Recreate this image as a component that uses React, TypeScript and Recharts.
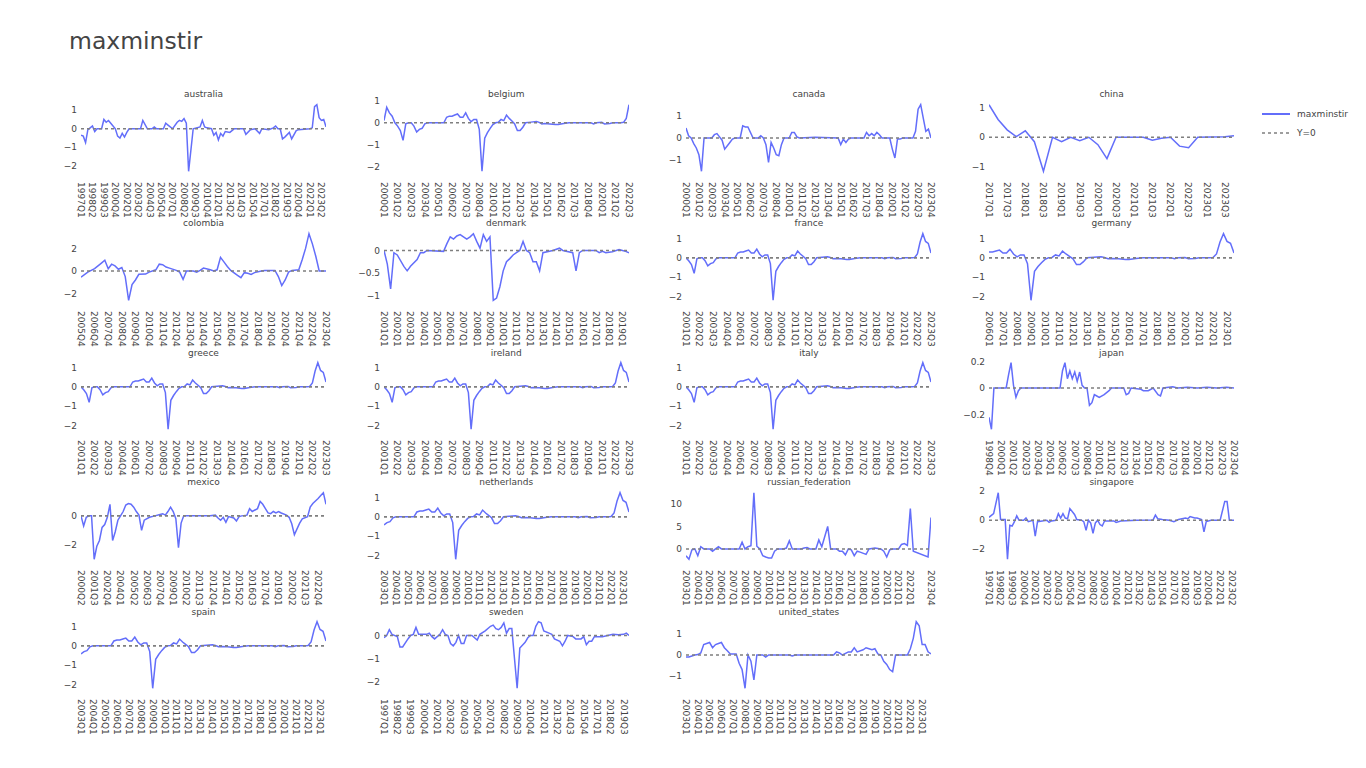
import { LineChart, Line, XAxis, YAxis, ReferenceLine } from "recharts";

type Pt = [string, number];

// euro area short rates (same series shows in every euro panel)
const euroArea: Pt[] = [
  ["2000Q1", 0.1], ["2000Q2", 0.7], ["2000Q3", 0.45], ["2000Q4", 0.3],
  ["2001Q1", 0], ["2001Q2", -0.15], ["2001Q3", -0.35], ["2001Q4", -0.8],
  ["2002Q1", -0.05], ["2002Q2", 0], ["2002Q3", 0], ["2002Q4", -0.15],
  ["2003Q1", -0.42], ["2003Q2", -0.3], ["2003Q3", -0.25], ["2003Q4", -0.05],
  ["2004Q1", 0], ["2005Q3", 0], ["2005Q4", 0.25], ["2006Q1", 0.3], ["2006Q2", 0.3],
  ["2006Q3", 0.35], ["2006Q4", 0.4], ["2007Q1", 0.25], ["2007Q2", 0.25], ["2007Q3", 0.45],
  ["2007Q4", 0.2], ["2008Q1", 0.05], ["2008Q2", 0.15], ["2008Q3", 0.15], ["2008Q4", -0.3],
  ["2009Q1", -2.2], ["2009Q2", -0.7], ["2009Q3", -0.45], ["2009Q4", -0.25], ["2010Q1", -0.08],
  ["2010Q2", 0], ["2010Q3", 0.02], ["2010Q4", 0.15], ["2011Q1", 0.1], ["2011Q2", 0.35],
  ["2011Q3", 0.2], ["2011Q4", 0.08], ["2012Q1", -0.05], ["2012Q2", -0.35], ["2012Q3", -0.35],
  ["2012Q4", -0.2], ["2013Q1", 0], ["2013Q3", 0.03], ["2014Q1", 0.06], ["2014Q2", 0.02],
  ["2014Q3", -0.05], ["2014Q4", -0.03], ["2015Q2", -0.05], ["2015Q4", -0.08], ["2016Q1", -0.08],
  ["2016Q3", -0.03], ["2017Q1", 0], ["2019Q1", 0], ["2019Q2", -0.05], ["2019Q3", 0],
  ["2020Q1", 0.02], ["2020Q2", -0.05], ["2020Q4", -0.03], ["2021Q1", 0], ["2021Q4", 0],
  ["2022Q1", 0.02], ["2022Q2", 0.2], ["2022Q3", 0.82], ["2022Q4", 1.25], ["2023Q1", 0.85],
  ["2023Q2", 0.75], ["2023Q3", 0.25],
];

const australia: Pt[] = [
  ["1997Q1", -0.35], ["1997Q2", -0.4], ["1997Q3", -0.75], ["1997Q4", -0.05], ["1998Q1", 0.05],
  ["1998Q2", 0.15], ["1998Q3", -0.15], ["1998Q4", 0], ["1999Q2", 0], ["1999Q3", 0.5],
  ["1999Q4", 0.35], ["2000Q1", 0.45], ["2000Q2", 0.3], ["2000Q4", 0], ["2001Q1", -0.4],
  ["2001Q2", -0.5], ["2001Q3", -0.25], ["2001Q4", -0.45], ["2002Q1", -0.2], ["2002Q2", 0],
  ["2003Q3", 0], ["2003Q4", 0.45], ["2004Q2", 0], ["2004Q4", 0], ["2005Q1", 0.1], ["2005Q2", 0],
  ["2006Q1", 0], ["2006Q2", 0.3], ["2006Q3", 0.2], ["2007Q1", 0], ["2007Q3", 0.35],
  ["2007Q4", 0.45], ["2008Q1", 0.4], ["2008Q2", 0.55], ["2008Q3", 0.3], ["2008Q4", -2.3],
  ["2009Q2", 0], ["2010Q1", 0.1], ["2010Q2", 0.45], ["2010Q3", 0.1], ["2010Q4", 0.05],
  ["2011Q2", 0], ["2011Q3", -0.35], ["2011Q4", -0.2], ["2012Q1", -0.6], ["2012Q2", -0.25],
  ["2012Q3", -0.4], ["2012Q4", -0.15], ["2013Q2", -0.2], ["2013Q4", 0], ["2014Q4", 0],
  ["2015Q1", -0.3], ["2015Q3", -0.05], ["2016Q1", 0], ["2016Q3", -0.25], ["2016Q4", 0],
  ["2017Q3", -0.05], ["2018Q1", 0.05], ["2018Q2", 0.15], ["2018Q3", 0], ["2018Q4", 0],
  ["2019Q1", -0.55], ["2019Q2", -0.45], ["2019Q4", -0.2], ["2020Q1", -0.55], ["2020Q3", -0.1],
  ["2020Q4", -0.05], ["2022Q1", 0], ["2022Q2", 0.05], ["2022Q3", 1.2], ["2022Q4", 1.3],
  ["2023Q1", 0.6], ["2023Q2", 0.45], ["2023Q3", 0.5], ["2023Q4", 0.1],
];

const canada: Pt[] = [
  ["2000Q1", 0.45], ["2000Q2", 0.1], ["2000Q3", 0], ["2000Q4", -0.25], ["2001Q1", -0.45],
  ["2001Q2", -0.75], ["2001Q3", -1.5], ["2001Q4", 0], ["2002Q3", 0], ["2002Q4", 0.15],
  ["2003Q1", 0.2], ["2003Q2", 0.05], ["2003Q3", -0.1], ["2003Q4", -0.5], ["2004Q2", -0.2],
  ["2004Q3", -0.05], ["2004Q4", 0], ["2005Q2", 0], ["2005Q3", 0.55], ["2005Q4", 0.5],
  ["2006Q1", 0.5], ["2006Q3", 0], ["2007Q1", 0], ["2007Q2", 0.1], ["2007Q3", 0],
  ["2007Q4", -0.3], ["2008Q1", -1.1], ["2008Q2", -0.2], ["2008Q3", -0.45], ["2008Q4", -0.75],
  ["2009Q1", -0.8], ["2009Q2", -0.3], ["2009Q3", 0], ["2010Q1", 0], ["2010Q2", 0.25],
  ["2010Q3", 0.25], ["2010Q4", 0.05], ["2011Q1", 0], ["2012Q3", 0.03], ["2014Q4", 0],
  ["2015Q1", -0.3], ["2015Q2", -0.05], ["2015Q3", -0.2], ["2015Q4", -0.05], ["2016Q1", 0],
  ["2017Q2", 0], ["2017Q3", 0.25], ["2017Q4", 0.1], ["2018Q1", 0.2], ["2018Q2", 0.1],
  ["2018Q3", 0.25], ["2018Q4", 0.15], ["2019Q1", 0], ["2019Q4", 0], ["2020Q1", -0.5],
  ["2020Q2", -0.9], ["2020Q3", -0.05], ["2020Q4", -0.05], ["2021Q1", 0], ["2022Q1", 0],
  ["2022Q2", 0.3], ["2022Q3", 1.3], ["2022Q4", 1.5], ["2023Q1", 0.9], ["2023Q2", 0.3],
  ["2023Q3", 0.4], ["2023Q4", 0],
];

const china: Pt[] = [
  ["2017Q1", 1.1], ["2017Q2", 0.6], ["2017Q3", 0.25], ["2017Q4", 0.02], ["2018Q1", 0.22],
  ["2018Q2", -0.15], ["2018Q3", -1.15], ["2018Q4", 0], ["2019Q1", -0.15], ["2019Q2", 0],
  ["2019Q3", -0.12], ["2019Q4", 0], ["2020Q1", -0.25], ["2020Q2", -0.72], ["2020Q3", 0],
  ["2021Q2", 0], ["2021Q3", -0.1], ["2021Q4", -0.03], ["2022Q1", 0], ["2022Q2", -0.3],
  ["2022Q3", -0.35], ["2022Q4", 0], ["2023Q3", 0.02], ["2023Q4", 0.05],
];

const colombia: Pt[] = [
  ["2005Q4", -0.55], ["2006Q2", -0.1], ["2006Q4", 0.2], ["2007Q2", 0.7], ["2007Q3", 0.95],
  ["2007Q4", 0.2], ["2008Q1", 0.6], ["2008Q2", 0.45], ["2008Q3", 0.15], ["2008Q4", 0.3],
  ["2009Q1", -0.5], ["2009Q2", -2.6], ["2009Q3", -1.2], ["2009Q4", -0.8], ["2010Q1", -0.3],
  ["2010Q3", -0.28], ["2010Q4", -0.1], ["2011Q2", 0.1], ["2011Q3", 0.6], ["2011Q4", 0.55],
  ["2012Q1", 0.35], ["2012Q2", 0.25], ["2012Q4", 0.05], ["2013Q1", -0.1], ["2013Q2", -0.75],
  ["2013Q3", 0], ["2014Q1", 0], ["2014Q2", -0.1], ["2014Q3", 0.05], ["2014Q4", 0.25],
  ["2015Q2", 0.1], ["2015Q3", 0], ["2015Q4", 0.1], ["2016Q1", 1.2], ["2016Q2", 0.8],
  ["2016Q3", 0.4], ["2016Q4", 0.05], ["2017Q2", -0.4], ["2017Q3", -0.6], ["2017Q4", -0.15],
  ["2018Q1", -0.2], ["2018Q2", -0.3], ["2018Q3", -0.15], ["2019Q1", 0], ["2019Q2", 0.05],
  ["2020Q1", 0.05], ["2020Q2", -0.5], ["2020Q3", -1.3], ["2020Q4", -0.8], ["2021Q1", -0.1],
  ["2021Q2", 0.05], ["2021Q4", 0.1], ["2022Q1", 1.0], ["2022Q2", 2.0], ["2022Q3", 3.3],
  ["2022Q4", 2.4], ["2023Q1", 1.3], ["2023Q2", 0], ["2023Q4", 0],
];

const denmark: Pt[] = [
  ["2001Q1", 0], ["2001Q2", -0.3], ["2001Q3", -0.85], ["2001Q4", -0.05], ["2002Q1", -0.1],
  ["2002Q3", -0.35], ["2002Q4", -0.45], ["2003Q1", -0.35], ["2003Q3", -0.2], ["2003Q4", -0.05],
  ["2004Q1", -0.05], ["2004Q2", 0], ["2005Q3", -0.02], ["2005Q4", 0.15], ["2006Q1", 0.3],
  ["2006Q2", 0.25], ["2006Q3", 0.32], ["2006Q4", 0.35], ["2007Q1", 0.3], ["2007Q2", 0.25],
  ["2007Q3", 0.3], ["2007Q4", 0.37], ["2008Q1", 0.2], ["2008Q2", 0.05], ["2008Q3", 0.35],
  ["2008Q4", 0.2], ["2009Q1", 0.3], ["2009Q2", -1.1], ["2009Q3", -1.05], ["2009Q4", -0.8],
  ["2010Q1", -0.45], ["2010Q2", -0.25], ["2010Q3", -0.18], ["2010Q4", -0.1], ["2011Q1", -0.05],
  ["2011Q2", 0], ["2011Q3", 0.2], ["2011Q4", 0], ["2012Q1", -0.05], ["2012Q2", -0.25],
  ["2012Q3", -0.25], ["2012Q4", -0.45], ["2013Q1", -0.05], ["2013Q4", 0], ["2014Q2", 0.05],
  ["2014Q3", 0], ["2015Q2", -0.05], ["2015Q3", -0.45], ["2015Q4", -0.05], ["2016Q1", 0],
  ["2017Q1", 0], ["2017Q2", -0.05], ["2017Q3", -0.02], ["2017Q4", -0.05], ["2018Q2", -0.03],
  ["2018Q4", 0.02], ["2019Q1", 0], ["2019Q2", -0.02], ["2019Q3", -0.05],
];

const japan: Pt[] = [
  ["1998Q4", -0.22], ["1999Q1", -0.31], ["1999Q2", 0], ["2000Q3", 0], ["2000Q4", 0.1],
  ["2001Q1", 0.19], ["2001Q2", 0.02], ["2001Q3", -0.07], ["2001Q4", -0.02], ["2002Q1", 0],
  ["2006Q1", 0], ["2006Q2", 0.13], ["2006Q3", 0.19], ["2006Q4", 0.07], ["2007Q1", 0.13],
  ["2007Q2", 0.07], ["2007Q3", 0.12], ["2007Q4", 0.05], ["2008Q1", 0.12], ["2008Q2", 0.02],
  ["2008Q3", 0], ["2008Q4", 0], ["2009Q1", -0.13], ["2009Q2", -0.11], ["2009Q3", -0.05],
  ["2009Q4", -0.06], ["2010Q1", -0.07], ["2010Q3", -0.05], ["2011Q1", -0.02], ["2011Q2", 0],
  ["2012Q3", 0], ["2012Q4", -0.05], ["2013Q1", -0.04], ["2013Q2", 0], ["2014Q2", -0.01],
  ["2014Q3", -0.02], ["2015Q1", -0.02], ["2015Q3", 0], ["2016Q1", -0.05], ["2016Q2", -0.06],
  ["2016Q3", 0], ["2017Q3", 0.01], ["2018Q1", 0], ["2019Q1", 0.005], ["2020Q1", 0],
  ["2021Q1", 0.005], ["2022Q1", 0], ["2023Q1", 0.005], ["2023Q4", 0],
];

const mexico: Pt[] = [
  ["2000Q2", 0], ["2000Q3", -0.7], ["2000Q4", -0.1], ["2001Q1", 0], ["2001Q2", 0],
  ["2001Q3", -3.0], ["2001Q4", -2.1], ["2002Q1", -1.7], ["2002Q2", -0.8], ["2002Q3", -0.6],
  ["2002Q4", -0.1], ["2003Q1", 0.8], ["2003Q2", -1.7], ["2003Q3", -1.1], ["2003Q4", -0.3],
  ["2004Q1", 0], ["2004Q2", 0.3], ["2004Q3", 0.75], ["2004Q4", 0.85], ["2005Q1", 0.8],
  ["2005Q2", 0.6], ["2005Q3", 0.3], ["2005Q4", 0.05], ["2006Q1", -1.0], ["2006Q2", -0.3],
  ["2006Q4", -0.1], ["2007Q2", 0], ["2007Q4", 0.1], ["2008Q1", 0.15], ["2008Q2", 0.05],
  ["2008Q3", 0.3], ["2008Q4", 0.6], ["2009Q1", 0.3], ["2009Q2", -0.2], ["2009Q3", -2.2],
  ["2009Q4", -0.5], ["2010Q1", 0], ["2012Q3", 0], ["2013Q1", 0.05], ["2013Q2", -0.15],
  ["2013Q3", -0.3], ["2013Q4", -0.1], ["2014Q1", -0.45], ["2014Q2", -0.05], ["2014Q4", -0.15],
  ["2015Q1", -0.35], ["2015Q2", -0.05], ["2015Q3", 0], ["2016Q1", 0.05], ["2016Q2", 0.5],
  ["2016Q3", 0.3], ["2017Q1", 0.5], ["2017Q2", 1.0], ["2017Q3", 0.8], ["2017Q4", 0.5],
  ["2018Q1", 0.2], ["2018Q2", 0.15], ["2018Q3", 0.3], ["2018Q4", 0.2], ["2019Q1", 0.3],
  ["2019Q2", 0.2], ["2019Q4", 0.05], ["2020Q1", -0.1], ["2020Q2", -0.55], ["2020Q3", -1.3],
  ["2020Q4", -0.9], ["2021Q1", -0.5], ["2021Q2", -0.2], ["2021Q4", -0.05], ["2022Q1", 0.6],
  ["2022Q2", 0.85], ["2022Q4", 1.2], ["2023Q1", 1.4], ["2023Q2", 1.6], ["2023Q3", 0.8],
];

const russia: Pt[] = [
  ["2003Q1", -1.5], ["2003Q2", -2.3], ["2003Q3", -0.2], ["2003Q4", 0], ["2004Q1", -1.5],
  ["2004Q2", 0.5], ["2004Q3", 0], ["2005Q1", 0], ["2005Q2", -0.5], ["2005Q3", 0],
  ["2005Q4", 0.5], ["2006Q1", 0], ["2007Q3", 0], ["2007Q4", 1.5], ["2008Q1", 0],
  ["2008Q2", 0.5], ["2008Q3", 0.7], ["2008Q4", 12.5], ["2009Q1", 0.6], ["2009Q2", 0],
  ["2009Q3", -1.5], ["2009Q4", -1.8], ["2010Q1", -2], ["2010Q2", -2], ["2010Q3", -0.5],
  ["2010Q4", 0], ["2011Q2", 0], ["2011Q3", 0.2], ["2011Q4", 1.8], ["2012Q1", 0],
  ["2012Q4", 0], ["2013Q1", 0.2], ["2013Q2", 0.3], ["2013Q3", 0], ["2014Q1", 0],
  ["2014Q2", 2], ["2014Q3", 0.5], ["2015Q1", 5], ["2015Q2", 0], ["2015Q4", 0],
  ["2016Q1", -0.5], ["2016Q2", -0.5], ["2016Q3", -1.3], ["2016Q4", 0], ["2017Q1", -0.2],
  ["2017Q2", -1.5], ["2017Q3", -0.5], ["2017Q4", -0.7], ["2018Q2", -1.2], ["2018Q3", 0],
  ["2019Q1", 0.2], ["2019Q3", 0], ["2019Q4", -0.5], ["2020Q1", -1.8], ["2020Q2", -0.2],
  ["2020Q3", 0], ["2021Q1", 0], ["2021Q2", 1], ["2021Q3", 1.2], ["2021Q4", 0.8],
  ["2022Q1", 9], ["2022Q2", -0.5], ["2023Q3", -1.8], ["2023Q4", 7],
];

const singapore: Pt[] = [
  ["1997Q1", 0.2], ["1997Q3", 0.45], ["1998Q1", 1.9], ["1998Q2", 0.05], ["1998Q4", 0.05],
  ["1999Q1", -2.7], ["1999Q2", -0.35], ["1999Q3", -0.4], ["1999Q4", -0.1], ["2000Q1", 0.3],
  ["2000Q2", 0], ["2000Q4", 0], ["2001Q1", 0.15], ["2001Q2", -0.1], ["2001Q4", 0],
  ["2002Q1", -1.1], ["2002Q2", -0.1], ["2002Q4", -0.05], ["2003Q2", 0], ["2003Q3", -0.15],
  ["2003Q4", -0.05], ["2004Q2", 0], ["2004Q3", 0.45], ["2004Q4", 0.15], ["2005Q1", 0.45],
  ["2005Q2", 0.15], ["2005Q3", 0.1], ["2005Q4", 0.8], ["2006Q2", 0.4], ["2006Q3", 0.05],
  ["2007Q1", 0], ["2007Q2", -0.1], ["2007Q3", -0.7], ["2007Q4", 0], ["2008Q1", -0.2],
  ["2008Q2", -0.9], ["2008Q3", -0.2], ["2008Q4", 0], ["2009Q1", -0.3], ["2009Q2", -0.4],
  ["2009Q3", -0.05], ["2010Q3", -0.05], ["2010Q4", -0.15], ["2011Q2", -0.05], ["2013Q1", 0],
  ["2014Q4", 0.02], ["2015Q1", 0.35], ["2015Q2", 0.1], ["2015Q4", 0.05], ["2016Q3", 0],
  ["2017Q1", -0.1], ["2017Q3", 0.05], ["2018Q2", 0.15], ["2018Q3", 0.1], ["2018Q4", 0.25],
  ["2019Q2", 0.15], ["2019Q3", 0.15], ["2020Q1", 0.05], ["2020Q2", -0.8], ["2020Q3", -0.1],
  ["2021Q1", 0], ["2022Q1", 0], ["2022Q3", 1.3], ["2022Q4", 1.3], ["2023Q1", 0], ["2023Q3", 0],
];

const sweden: Pt[] = [
  ["1997Q1", -0.1], ["1997Q2", 0], ["1997Q3", 0.25], ["1997Q4", 0.05], ["1998Q2", -0.05],
  ["1998Q3", -0.5], ["1998Q4", -0.5], ["1999Q2", -0.15], ["1999Q3", 0], ["1999Q4", 0.05],
  ["2000Q1", 0.35], ["2000Q2", 0.05], ["2001Q1", 0.05], ["2001Q2", 0.1], ["2001Q3", -0.05],
  ["2001Q4", -0.15], ["2002Q2", 0.05], ["2002Q3", 0.25], ["2002Q4", 0.05], ["2003Q1", 0],
  ["2003Q2", -0.35], ["2003Q3", -0.45], ["2003Q4", -0.3], ["2004Q1", 0], ["2004Q2", -0.35],
  ["2004Q3", -0.35], ["2004Q4", 0], ["2005Q2", 0], ["2005Q3", -0.1], ["2005Q4", -0.2],
  ["2006Q1", 0.05], ["2006Q3", 0.2], ["2007Q1", 0.4], ["2007Q2", 0.45], ["2007Q3", 0.3],
  ["2007Q4", 0.25], ["2008Q1", 0.35], ["2008Q2", 0.55], ["2008Q3", 0.1], ["2008Q4", 0.3],
  ["2009Q1", 0.3], ["2009Q2", -1.0], ["2009Q3", -2.3], ["2009Q4", -0.55], ["2010Q2", -0.3],
  ["2010Q3", -0.1], ["2010Q4", 0], ["2011Q1", 0], ["2011Q2", 0.4], ["2011Q3", 0.6],
  ["2011Q4", 0.55], ["2012Q1", 0.2], ["2012Q3", 0.1], ["2012Q4", 0.05], ["2013Q1", -0.15],
  ["2013Q3", -0.25], ["2013Q4", -0.45], ["2014Q1", -0.25], ["2014Q2", 0], ["2014Q4", -0.05],
  ["2015Q1", -0.15], ["2015Q3", -0.15], ["2015Q4", -0.05], ["2016Q1", -0.4], ["2016Q2", -0.25],
  ["2016Q3", -0.25], ["2016Q4", -0.05], ["2017Q3", -0.05], ["2018Q1", 0], ["2018Q3", 0.05],
  ["2019Q1", 0.03], ["2019Q3", 0.05], ["2019Q4", 0.1], ["2020Q1", 0],
];

const unitedStates: Pt[] = [
  ["2003Q1", -0.1], ["2003Q2", -0.1], ["2003Q3", -0.05], ["2003Q4", 0], ["2004Q1", 0.02],
  ["2004Q2", 0.1], ["2004Q3", 0.5], ["2004Q4", 0.55], ["2005Q1", 0.6], ["2005Q2", 0.35],
  ["2005Q3", 0.5], ["2005Q4", 0.55], ["2006Q1", 0.6], ["2006Q2", 0.35], ["2006Q3", 0.2],
  ["2006Q4", 0.05], ["2007Q2", 0.05], ["2007Q3", -0.4], ["2007Q4", -0.7], ["2008Q1", -1.6],
  ["2008Q2", 0], ["2008Q3", -0.3], ["2008Q4", -1.2], ["2009Q1", 0], ["2009Q3", 0],
  ["2009Q4", -0.1], ["2010Q1", 0], ["2011Q4", 0], ["2012Q1", -0.05], ["2012Q2", 0],
  ["2015Q3", 0], ["2015Q4", 0.15], ["2016Q1", 0.1], ["2016Q2", 0], ["2016Q4", 0.15],
  ["2017Q1", 0.15], ["2017Q2", 0.35], ["2017Q3", 0.15], ["2018Q1", 0.25], ["2018Q2", 0.35],
  ["2018Q3", 0.3], ["2018Q4", 0.25], ["2019Q1", 0.3], ["2019Q2", 0.05], ["2019Q3", 0],
  ["2019Q4", -0.3], ["2020Q1", -0.45], ["2020Q2", -0.7], ["2020Q3", -0.8], ["2020Q4", 0],
  ["2021Q4", 0], ["2022Q1", 0.3], ["2022Q2", 0.8], ["2022Q3", 1.6], ["2022Q4", 1.4],
  ["2023Q1", 0.5], ["2023Q2", 0.5], ["2023Q3", 0.15], ["2023Q4", 0.05],
];

interface PanelSpec {
  name: string;
  data: Pt[];
  start: string;
  end: string;
  step: number;
  lastTick?: string;
  extraTicks?: string[];
  yTicks: number[];
}

const panels: PanelSpec[] = [
  { name: "australia", data: australia, start: "1997Q1", end: "2023Q4", step: 5, yTicks: [-2, -1, 0, 1] },
  { name: "belgium", data: euroArea, start: "2000Q1", end: "2022Q3", step: 5, yTicks: [-2, -1, 0, 1] },
  { name: "canada", data: canada, start: "2000Q1", end: "2023Q4", step: 5, yTicks: [-1, 0, 1] },
  { name: "china", data: china, start: "2017Q1", end: "2023Q4", step: 2, yTicks: [-1, 0, 1] },
  { name: "colombia", data: colombia, start: "2005Q4", end: "2023Q4", step: 4, yTicks: [-2, 0, 2] },
  { name: "denmark", data: denmark, start: "2001Q1", end: "2019Q3", step: 4, yTicks: [-1, -0.5, 0] },
  { name: "france", data: euroArea, start: "2001Q1", end: "2023Q3", step: 5, yTicks: [-2, -1, 0, 1] },
  { name: "germany", data: euroArea, start: "2006Q1", end: "2023Q3", step: 4, yTicks: [-2, -1, 0, 1] },
  { name: "greece", data: euroArea, start: "2001Q1", end: "2023Q3", step: 5, yTicks: [-2, -1, 0, 1] },
  { name: "ireland", data: euroArea, start: "2001Q1", end: "2023Q3", step: 5, yTicks: [-2, -1, 0, 1] },
  { name: "italy", data: euroArea, start: "2001Q1", end: "2023Q3", step: 5, yTicks: [-2, -1, 0, 1] },
  { name: "japan", data: japan, start: "1998Q4", end: "2023Q4", step: 5, yTicks: [-0.2, 0, 0.2] },
  { name: "mexico", data: mexico, start: "2000Q2", end: "2023Q3", step: 5, yTicks: [-2, 0] },
  { name: "netherlands", data: euroArea, start: "2003Q1", end: "2023Q3", step: 4, yTicks: [-2, -1, 0, 1] },
  { name: "russian_federation", data: russia, start: "2003Q1", end: "2023Q4", step: 4, lastTick: "2022Q1", extraTicks: ["2023Q4"], yTicks: [0, 5, 10] },
  { name: "singapore", data: singapore, start: "1997Q1", end: "2023Q3", step: 5, yTicks: [-2, 0, 2] },
  { name: "spain", data: euroArea, start: "2003Q1", end: "2023Q3", step: 4, yTicks: [-2, -1, 0, 1] },
  { name: "sweden", data: sweden, start: "1997Q1", end: "2020Q1", step: 5, yTicks: [-2, -1, 0] },
  { name: "united_states", data: unitedStates, start: "2003Q1", end: "2023Q4", step: 4, yTicks: [-1, 0, 1] },
];

const LINE = "#636efa";
const ZERO = "#7f7f7f";
const TEXT = "#444";
const FONT = "'DejaVu Sans', Verdana, sans-serif";

// subplot grid, page pixels
const COL0 = 81;
const COL_STEP = 302.7;
const PLOT_W = 245;
const ROW0 = 100.5;
const ROW_STEP = 129.4;
const PLOT_H = 74;
const Y_AXIS_W = 40;
const PAD_T = 8;
const PAD_R = 10;

const qi = (s: string) => Number(s.slice(0, 4)) * 4 + Number(s.slice(5)) - 1;
const qLabel = (i: number) => `${Math.floor(i / 4)}Q${(i % 4) + 1}`;
const fmtY = (v: number) => (v < 0 ? "\u2212" + String(-v) : String(v));

function QuarterTick(props: any) {
  const { x, y, payload } = props;
  return (
    <text x={x} y={y} transform={`rotate(90 ${x} ${y})`} textAnchor="start" dy="0.35em" fontSize={9} fill={TEXT}>
      {qLabel(payload.value)}
    </text>
  );
}

function Panel({ p, idx }: { p: PanelSpec; idx: number }) {
  const col = idx % 4;
  const row = Math.floor(idx / 4);
  const x0 = qi(p.start);
  const x1 = qi(p.end);
  const rows = p.data
    .map(([q, v]) => ({ x: qi(q), v }))
    .filter((r) => r.x >= x0 && r.x <= x1);
  const vals = rows.map((r) => r.v);
  const lo = Math.min(...vals);
  const hi = Math.max(...vals);
  const pad = (hi - lo) / 18; // plotly keeps 5% of the axis free at each end
  const yDom: [number, number] = [lo - pad, hi + pad];

  const last = p.lastTick ? qi(p.lastTick) : x1;
  const ticks: number[] = [];
  for (let t = x0; t <= last; t += p.step) ticks.push(t);
  (p.extraTicks || []).forEach((t) => ticks.push(qi(t)));

  const left = COL0 + COL_STEP * col;
  const top = ROW0 + ROW_STEP * row;

  return (
    <div style={{ position: "absolute", left: left - Y_AXIS_W, top: top - PAD_T }}>
      <LineChart
        width={Y_AXIS_W + PLOT_W + PAD_R}
        height={PAD_T + PLOT_H + 60}
        data={rows}
        margin={{ top: PAD_T, right: PAD_R, bottom: 0, left: 0 }}
      >
        <XAxis
          dataKey="x"
          type="number"
          domain={[x0, x1]}
          ticks={ticks}
          interval={0}
          allowDataOverflow
          axisLine={false}
          tickLine={false}
          tickSize={0}
          tickMargin={7}
          height={60}
          tick={<QuarterTick />}
        />
        <YAxis
          type="number"
          domain={yDom}
          allowDataOverflow
          ticks={p.yTicks}
          interval={0}
          tickFormatter={fmtY}
          axisLine={false}
          tickLine={false}
          tickSize={0}
          tickMargin={4}
          width={Y_AXIS_W}
          tick={{ fontSize: 9, fill: TEXT }}
        />
        <Line type="linear" dataKey="v" stroke={LINE} strokeWidth={1.5} dot={false} isAnimationActive={false} />
        <ReferenceLine y={0} stroke={ZERO} strokeWidth={1.6} strokeDasharray="3 3" />
      </LineChart>
    </div>
  );
}

export default function App() {
  return (
    <div style={{ position: "absolute", left: 0, top: 0, width: 1366, height: 768, background: "#fff", fontFamily: FONT }}>
      <svg width={1366} height={768} style={{ position: "absolute", left: 0, top: 0 }}>
        <text x={69} y={49} fontSize={23.5} fill={TEXT}>maxminstir</text>
        {panels.map((p, i) => (
          <text
            key={p.name}
            x={COL0 + COL_STEP * (i % 4) + PLOT_W / 2}
            y={ROW0 + ROW_STEP * Math.floor(i / 4) - 3.5}
            textAnchor="middle"
            fontSize={9}
            fill={TEXT}
          >
            {p.name}
          </text>
        ))}
        <line x1={1262} y1={114} x2={1290} y2={114} stroke={LINE} strokeWidth={2} />
        <text x={1297} y={117} fontSize={9} fill={TEXT}>maxminstir</text>
        <line x1={1262} y1={133} x2={1290} y2={133} stroke={ZERO} strokeWidth={1.6} strokeDasharray="3 3" />
        <text x={1297} y={136} fontSize={9} fill={TEXT}>Y=0</text>
      </svg>
      {panels.map((p, i) => (
        <Panel key={p.name} p={p} idx={i} />
      ))}
    </div>
  );
}
